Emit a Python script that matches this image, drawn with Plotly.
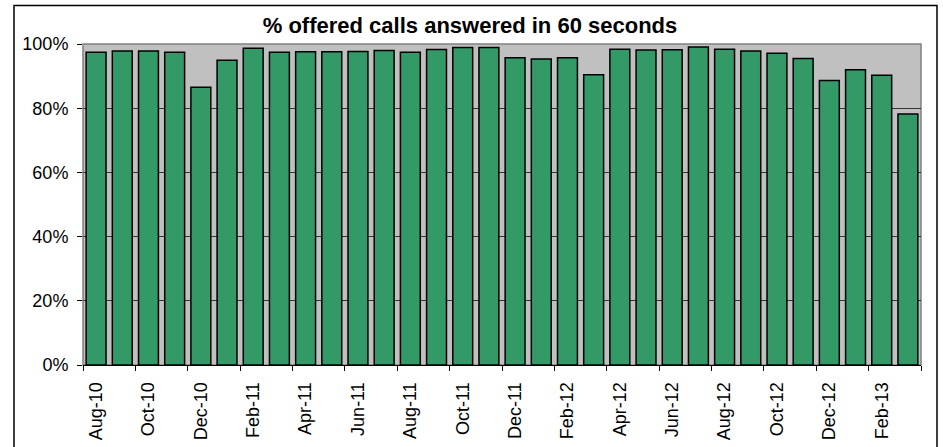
import plotly.graph_objects as go

# monthly values, % of offered calls answered within 60 seconds
months = [
    "Aug-10", "Sep-10", "Oct-10", "Nov-10", "Dec-10",
    "Jan-11", "Feb-11", "Mar-11", "Apr-11", "May-11", "Jun-11",
    "Jul-11", "Aug-11", "Sep-11", "Oct-11", "Nov-11", "Dec-11",
    "Jan-12", "Feb-12", "Mar-12", "Apr-12", "May-12", "Jun-12",
    "Jul-12", "Aug-12", "Sep-12", "Oct-12", "Nov-12", "Dec-12",
    "Jan-13", "Feb-13", "Mar-13",
]
answered_pct = [
    97.4, 97.8, 97.8, 97.4, 86.5,
    94.9, 98.7, 97.4, 97.6, 97.6, 97.7,
    98.0, 97.4, 98.3, 98.9, 98.9, 95.7,
    95.3, 95.7, 90.4, 98.4, 98.1, 98.2,
    99.1, 98.4, 97.8, 97.1, 95.5, 88.6,
    92.0, 90.3, 78.2,
]
y_ticks = [0, 20, 40, 60, 80, 100]

FONT = "Liberation Sans, Arial, sans-serif"

idx = list(range(len(months)))
label_idx = idx[::2]
boundaries = [i - 0.5 for i in idx[::2]] + [len(months) - 0.5]

fig = go.Figure()

fig.add_trace(
    go.Bar(
        x=idx,
        y=answered_pct,
        marker=dict(color="#339966", line=dict(color="#000000", width=1.5)),
        hoverinfo="y",
    )
)

# figure and plot-area sizes in pixels
W, H = 943, 447
L, R, T, B = 83, 22, 44, 82
pw, ph = W - L - R, H - T - B

fig.update_layout(
    width=W,
    height=H,
    margin=dict(l=L, r=R, t=T, b=B),
    paper_bgcolor="white",
    plot_bgcolor="#C0C0C0",
    bargap=0.24,
    showlegend=False,
    font=dict(family=FONT, color="black", size=18),
    title=dict(
        text="<b>% offered calls answered in 60 seconds</b>",
        font=dict(family=FONT, size=22, color="black"),
        x=470 / W, xref="container", xanchor="center",
        y=1 - 25 / H, yref="container", yanchor="middle",
    ),
    xaxis=dict(
        range=[-0.5, len(months) - 0.5],
        tickmode="array",
        tickvals=label_idx,
        ticktext=[months[i] for i in label_idx],
        tickangle=-90,
        ticks="outside",
        ticklen=9,
        tickcolor="rgba(0,0,0,0)",
        tickfont=dict(size=18),
        automargin=False,
        showgrid=False,
        zeroline=False,
        showline=True,
        linecolor="#000000",
        linewidth=1,
        minor=dict(
            tickmode="array",
            tickvals=boundaries,
            ticks="outside",
            ticklen=5,
            tickcolor="#000000",
            tickwidth=1,
            showgrid=False,
        ),
    ),
    yaxis=dict(
        range=[0, 100],
        tickmode="array",
        tickvals=y_ticks,
        ticktext=[f"{v}%" for v in y_ticks],
        ticks="outside",
        ticklen=5,
        tickcolor="#000000",
        tickfont=dict(size=18),
        ticklabelstandoff=5,
        automargin=False,
        showgrid=True,
        gridcolor="#333333",
        gridwidth=1,
        zeroline=False,
        showline=False,
    ),
    shapes=[
        # plot area border
        dict(type="rect", xref="paper", yref="paper", x0=0, x1=1, y0=0, y1=1,
             line=dict(color="#808080", width=1.5), layer="below"),
        # chart area border (bottom edge runs past the window)
        dict(type="rect", xref="paper", yref="paper",
             x0=(14 - L) / pw, x1=(937 - L) / pw,
             y0=(H - B - 460) / ph, y1=(H - B - 5.5) / ph,
             line=dict(color="#000000", width=1.5)),
    ],
)

fig.write_html(
    "out.html",
    config={"displayModeBar": False},
    post_script="document.body.style.margin='0';document.body.style.overflow='hidden';",
)
